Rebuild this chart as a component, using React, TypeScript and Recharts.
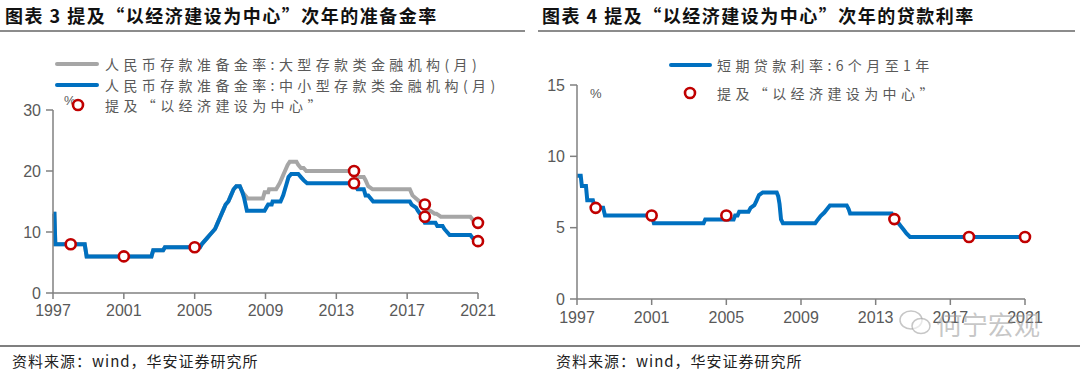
import React from 'react';
import { LineChart, Line, XAxis, YAxis } from 'recharts';

const yearTicks = [1997, 2001, 2005, 2009, 2013, 2017, 2021];
const rrrTicks = [0, 10, 20, 30];
const loanTicks = [0, 5, 10, 15];

// 人民币存款准备金率: 大型存款类金融机构 (%)
const largeRrrYears = [
  1997.0, 1997.08, 1997.13, 1998.79, 1998.9, 2002.56, 2002.66, 2003.22, 2003.32, 2005.3,
  2005.4, 2005.55, 2005.7, 2005.85, 2006.0, 2006.15, 2006.3, 2006.45, 2006.6, 2006.75,
  2006.9, 2007.05, 2007.2, 2007.35, 2007.55, 2007.7, 2008.0, 2008.85, 2008.95, 2009.15,
  2009.2, 2009.6, 2009.7, 2009.8, 2009.95, 2010.1, 2010.25, 2010.37, 2010.75, 2010.85,
  2011.0, 2011.15, 2011.3, 2014.0, 2014.1, 2014.2, 2014.55, 2014.65, 2014.8, 2015.05,
  2017.15, 2017.3, 2017.5, 2017.7, 2017.85, 2018.0, 2018.15, 2018.3, 2018.55, 2018.65,
  2018.9, 2019.0, 2020.57, 2020.7, 2020.9, 2021.0,
];
const largeRrrValues = [
  13, 13, 8, 8, 6, 6, 7, 7, 7.5, 7.5,
  8, 8.5, 9, 9.5, 10, 10.5, 11.5, 12.5, 13.5, 14.5,
  15, 16, 17, 17.5, 17.5, 16.5, 15.5, 15.5, 16.5, 16.5,
  17, 17, 17.5, 18, 19, 20, 21, 21.5, 21.5, 21,
  20.5, 20.5, 20, 20, 19.5, 19, 19, 18.5, 17.5, 17,
  17, 16, 15.5, 15, 14.5, 14, 13.5, 13.5, 13, 13,
  12.5, 12.5, 12.5, 12, 12, 11.5,
];

// 人民币存款准备金率: 中小型存款类金融机构 (%)
const smallRrrYears = [
  1997.0, 1997.08, 1997.13, 1998.79, 1998.9, 2002.56, 2002.66, 2003.22, 2003.32, 2005.3,
  2005.4, 2005.55, 2005.7, 2005.85, 2006.0, 2006.15, 2006.3, 2006.45, 2006.6, 2006.75,
  2006.9, 2007.05, 2007.2, 2007.35, 2007.55, 2007.7, 2007.8, 2007.95, 2008.95, 2009.05,
  2009.15, 2009.35, 2009.4, 2009.85, 2010.0, 2010.1, 2010.2, 2010.3, 2010.45, 2010.85,
  2011.0, 2011.15, 2011.35, 2014.0, 2014.1, 2014.2, 2014.55, 2014.65, 2014.8, 2015.08,
  2017.15, 2017.25, 2017.5, 2017.6, 2017.85, 2018.0, 2018.6, 2018.7, 2019.0, 2019.1,
  2019.4, 2020.57, 2020.7, 2020.9, 2021.0,
];
const smallRrrValues = [
  13, 13, 8, 8, 6, 6, 7, 7, 7.5, 7.5,
  8, 8.5, 9, 9.5, 10, 10.5, 11.5, 12.5, 13.5, 14.5,
  15, 16, 17, 17.5, 17.5, 16.5, 15.5, 13.5, 13.5, 14,
  14.5, 14.5, 15, 15, 16, 17, 18, 19, 19.5, 19.5,
  19, 18.5, 18, 18, 17.5, 17, 17, 16, 16, 15,
  15, 14.5, 14, 13.5, 12.5, 11.5, 11.5, 11, 11, 10.5,
  9.5, 9.5, 9, 9, 8.5,
];

// 提及“以经济建设为中心”的次年 (准备金率)
const rrrMarkYears = [1998, 2001, 2005, 2014, 2014, 2018, 2018, 2021, 2021];
const rrrMarkValues = [8, 6, 7.5, 20, 18, 14.5, 12.5, 11.5, 8.5];

// 短期贷款利率: 6个月至1年 (%)
const loanYears = [
  1997.0, 1997.2, 1997.26, 1997.48, 1997.55, 1997.85, 1997.95, 1998.4, 1998.5, 2001.0,
  2001.12, 2003.78, 2003.87, 2005.39, 2005.47, 2005.6, 2005.69, 2006.19, 2006.3, 2006.5,
  2006.6, 2006.75, 2006.95, 2007.7, 2007.78, 2007.85, 2007.93, 2008.03, 2009.76, 2009.9,
  2010.05, 2010.25, 2010.4, 2010.55, 2011.45, 2011.55, 2011.63, 2013.86, 2014.02, 2014.2,
  2014.35, 2014.5, 2014.65, 2014.84, 2021.0,
];
const loanValues = [
  8.64, 8.64, 7.92, 7.92, 6.93, 6.93, 6.39, 6.39, 5.85, 5.85,
  5.31, 5.31, 5.58, 5.58, 5.85, 5.85, 6.12, 6.12, 6.39, 6.57,
  6.84, 7.29, 7.47, 7.47, 7.2, 6.66, 5.58, 5.31, 5.31, 5.56,
  5.81, 6.06, 6.31, 6.56, 6.56, 6.31, 6.0, 6.0, 5.6, 5.35,
  5.1, 4.85, 4.6, 4.35, 4.35,
];

const loanMarkYears = [1998, 2001, 2005, 2014, 2018, 2021];
const loanMarkValues = [6.39, 5.85, 5.85, 5.6, 4.35, 4.35];

const zip = (xs: number[], vs: number[]) => xs.map((x, i) => ({ x, v: vs[i] }));

const largeRrr = zip(largeRrrYears, largeRrrValues);
const smallRrr = zip(smallRrrYears, smallRrrValues);
const rrrMarks = zip(rrrMarkYears, rrrMarkValues);
const loan = zip(loanYears, loanValues);
const loanMarks = zip(loanMarkYears, loanMarkValues);

const BLUE = '#0070C0';
const GRAY = '#A6A6A6';
const RED = '#C00000';
const AXIS = '#808080';
const TXT = '#595959';
const CJK = '"Noto Sans CJK SC", "Noto Sans", sans-serif';
const LATIN = '"Liberation Sans", Arial, sans-serif';

const tickStyle = { fill: TXT, fontSize: 16, fontFamily: LATIN };
const markerDot = { r: 5, stroke: RED, strokeWidth: 2.6, fill: '#FFFFFF' };

const abs = (left: number, top: number, extra: React.CSSProperties = {}): React.CSSProperties => ({
  position: 'absolute',
  left,
  top,
  whiteSpace: 'nowrap',
  ...extra,
});

const titleStyle: React.CSSProperties = {
  fontFamily: CJK,
  fontWeight: 700,
  fontSize: 18,
  lineHeight: '22px',
  letterSpacing: '1.5px',
  color: '#111',
};

const legendText: React.CSSProperties = {
  fontFamily: CJK,
  fontSize: 14,
  lineHeight: '18px',
  letterSpacing: '4.4px',
  color: TXT,
};

const sourceStyle: React.CSSProperties = {
  fontFamily: CJK,
  fontSize: 15,
  lineHeight: '18px',
  letterSpacing: '1px',
  color: '#222',
};

const Marker = ({ cx, cy }: { cx: number; cy: number }) => (
  <svg style={abs(cx - 8, cy - 8)} width={16} height={16}>
    <circle cx={8} cy={8} r={5} stroke={RED} strokeWidth={2.6} fill="#fff" />
  </svg>
);

export default function App() {
  return (
    <div style={{ position: 'absolute', left: 0, top: 0, width: 1080, height: 375, background: '#fff', overflow: 'hidden' }}>
      {/* Left chart */}
      <div style={abs(0, 0)}>
        <LineChart width={540} height={375} margin={{ top: 110, right: 62, bottom: 52, left: 0 }}>
          <XAxis
            type="number"
            dataKey="x"
            domain={[1997, 2021]}
            ticks={yearTicks}
            interval={0}
            height={30}
            tick={tickStyle}
            tickSize={6}
            tickMargin={6}
            axisLine={{ stroke: AXIS, strokeWidth: 1.5 }}
            tickLine={{ stroke: AXIS, strokeWidth: 1.5 }}
          />
          <YAxis
            type="number"
            dataKey="v"
            domain={[0, 30]}
            ticks={rrrTicks}
            interval={0}
            width={53}
            tick={tickStyle}
            tickSize={7}
            tickMargin={5}
            axisLine={{ stroke: AXIS, strokeWidth: 1.5 }}
            tickLine={{ stroke: AXIS, strokeWidth: 1.5 }}
          />
          <Line data={largeRrr} dataKey="v" type="linear" stroke={GRAY} strokeWidth={4} dot={false} activeDot={false} isAnimationActive={false} />
          <Line data={smallRrr} dataKey="v" type="linear" stroke={BLUE} strokeWidth={4} dot={false} activeDot={false} isAnimationActive={false} />
          <Line data={rrrMarks} dataKey="v" stroke="none" dot={markerDot} activeDot={false} isAnimationActive={false} />
        </LineChart>
      </div>

      {/* Right chart */}
      <div style={abs(540, 0)}>
        <LineChart width={540} height={375} margin={{ top: 85, right: 55, bottom: 46, left: 0 }}>
          <XAxis
            type="number"
            dataKey="x"
            domain={[1997, 2021]}
            ticks={yearTicks}
            interval={0}
            height={30}
            tick={tickStyle}
            tickSize={6}
            tickMargin={7}
            axisLine={{ stroke: AXIS, strokeWidth: 1.5 }}
            tickLine={{ stroke: AXIS, strokeWidth: 1.5 }}
          />
          <YAxis
            type="number"
            dataKey="v"
            domain={[0, 15]}
            ticks={loanTicks}
            interval={0}
            width={37}
            tick={tickStyle}
            tickSize={7}
            tickMargin={5}
            axisLine={{ stroke: AXIS, strokeWidth: 1.5 }}
            tickLine={{ stroke: AXIS, strokeWidth: 1.5 }}
          />
          <Line data={loan} dataKey="v" type="linear" stroke={BLUE} strokeWidth={4} dot={false} activeDot={false} isAnimationActive={false} />
          <Line data={loanMarks} dataKey="v" stroke="none" dot={markerDot} activeDot={false} isAnimationActive={false} />
        </LineChart>
      </div>

      {/* Titles */}
      <div style={abs(5, 4, titleStyle)}>图表 3 提及“以经济建设为中心”次年的准备金率</div>
      <div style={abs(542, 4, titleStyle)}>图表 4 提及“以经济建设为中心”次年的贷款利率</div>
      <div style={abs(0, 30, { width: 525, height: 2, background: '#8c8c8c' })} />
      <div style={abs(538, 30, { width: 537, height: 2, background: '#8c8c8c' })} />

      {/* Left legend */}
      <div style={abs(55, 62, { width: 44, height: 4, background: GRAY, borderRadius: 2 })} />
      <div style={abs(55, 83, { width: 44, height: 4, background: BLUE, borderRadius: 2 })} />
      <div style={abs(64, 93, { fontFamily: LATIN, fontSize: 13, lineHeight: '16px', color: TXT })}>%</div>
      <Marker cx={77.5} cy={105} />
      <div style={abs(105, 55, legendText)}>人民币存款准备金率:大型存款类金融机构(月)</div>
      <div style={abs(105, 76, legendText)}>人民币存款准备金率:中小型存款类金融机构(月)</div>
      <div style={abs(105, 96, legendText)}>提及“以经济建设为中心”</div>

      {/* Right legend */}
      <div style={abs(669, 63, { width: 43, height: 4, background: BLUE, borderRadius: 2 })} />
      <div style={abs(717, 56, legendText)}>短期贷款利率:6个月至1年</div>
      <Marker cx={690} cy={93} />
      <div style={abs(717, 84, legendText)}>提及“以经济建设为中心”</div>
      <div style={abs(590, 86, { fontFamily: LATIN, fontSize: 13, lineHeight: '16px', color: TXT })}>%</div>

      {/* Footer */}
      <div style={abs(0, 345, { width: 1080, height: 2, background: '#7f7f7f' })} />
      <div style={abs(12, 352, sourceStyle)}>资料来源：wind，华安证券研究所</div>
      <div style={abs(556, 352, sourceStyle)}>资料来源：wind，华安证券研究所</div>

      {/* Watermark */}
      <svg style={abs(898, 308)} width={36} height={30}>
        <ellipse cx={13} cy={12} rx={11} ry={9} fill="none" stroke="rgba(160,160,160,0.6)" strokeWidth={1.5} />
        <ellipse cx={23} cy={18} rx={9} ry={7.5} fill="rgba(255,255,255,0.6)" stroke="rgba(160,160,160,0.6)" strokeWidth={1.5} />
      </svg>
      <div style={abs(936, 308, { fontFamily: CJK, fontSize: 26, lineHeight: '32px', color: 'rgba(150,150,150,0.55)' })}>何宁宏观</div>
    </div>
  );
}
